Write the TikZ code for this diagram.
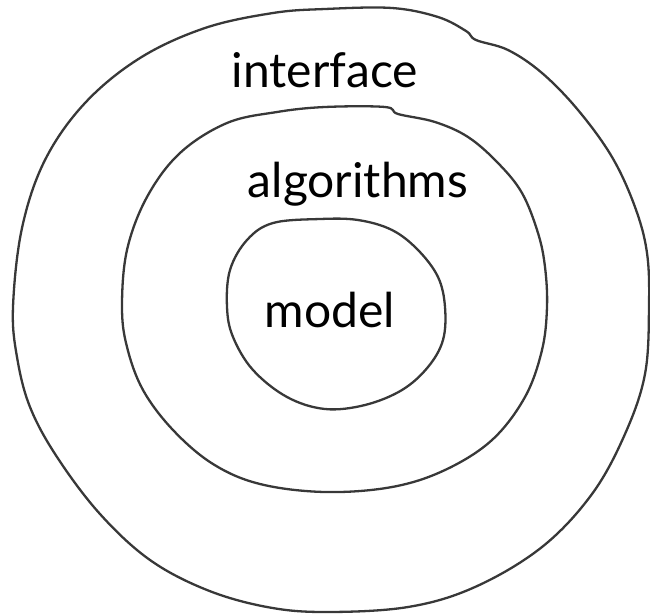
\documentclass[tikz,border=0pt]{standalone}
\usepackage{fontspec}
\setmainfont{Lato}

\begin{document}
\begin{tikzpicture}[x=1pt, y=-1pt,
    ring/.style={draw=black!78, line width=2.3pt, line join=round},
    lbl/.style={font=\fontsize{48}{48}\selectfont, inner sep=0pt, anchor=base},
  ]
  \useasboundingbox (0,0) rectangle (650,614);
  % hand drawn rings, outside in
  \draw[ring] plot[smooth cycle, tension=0.6] coordinates {
    (13,307) (22,228) (45,160) (85,103) (140,58) (205,28) (273,13)
    (325,9) (392,8) (438,17) (466,31) (476,40) (508,50) (542,73) (578,110)
    (612,157) (635,207) (647,253) (649,307) (645,374) (625,434) (592,494)
    (542,547) (475,587) (408,607) (325,612) (267,607) (207,590) (150,560)
    (100,514) (57,457) (30,407) (17,357)};
  \draw[ring] plot[smooth cycle, tension=0.6] coordinates {
    (122,307) (127,250) (147,197) (180,153) (227,123) (277,112) (325,107)
    (385,107) (398,114) (435,122) (468,137) (498,163) (522,193) (538,233)
    (545,267) (547,307) (542,350) (525,397) (492,440) (445,470) (392,487)
    (325,492) (260,484) (213,464) (173,430) (143,390) (127,347)};
  \draw[ring] plot[smooth cycle, tension=0.6] coordinates {
    (227,307) (230,270) (247,240) (273,223) (320,219) (358,220)
    (392,230) (418,250) (438,277) (445,307) (443,340) (428,367) (402,390)
    (365,405) (325,409) (287,397) (253,370) (233,337)};
  % layer names
  \node[lbl] (iface) at (325,87) {interface};
  \node[lbl] (algo) at (358,197) {algorithms};
  \node[lbl] (model) at (330,327) {model};
\end{tikzpicture}
\end{document}
